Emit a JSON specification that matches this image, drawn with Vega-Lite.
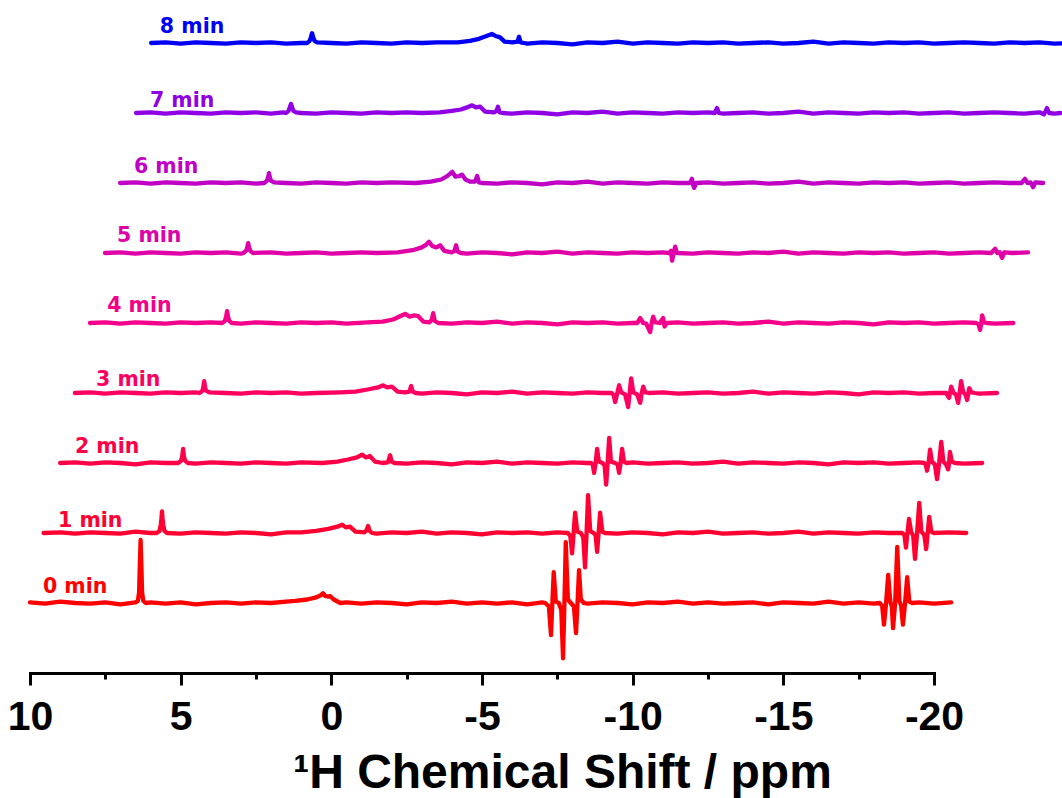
{
  "$schema": "https://vega.github.io/schema/vega-lite/v6.json",
  "autosize": {"type": "none"},
  "width": 904,
  "height": 672,
  "padding": {"left": 30, "top": 1, "right": 128, "bottom": 125},
  "background": "white",
  "config": {"view": {"stroke": null}},
  "encoding": {
    "x": {"field": "x", "type": "quantitative",
      "scale": {"domain": [10, -20], "nice": false, "zero": false},
      "axis": {
        "values": [10, 7.5, 5, 2.5, 0, -2.5, -5, -7.5, -10, -12.5, -15, -17.5, -20],
        "labelExpr": "datum.value % 5 === 0 ? '' + datum.value : ''",
        "tickSize": {"condition": {"test": "datum.value % 5 === 0", "value": 12}, "value": 6},
        "tickWidth": 3, "tickColor": "black",
        "domainWidth": 3, "domainColor": "black", "domainCap": "square",
        "grid": false, "labelFlush": false, "labelOverlap": false, "labelBound": false,
        "labelFont": "Liberation Sans", "labelFontSize": 41, "labelFontWeight": "bold", "labelColor": "black", "labelPadding": 12,
        "title": "¹H Chemical Shift / ppm",
        "titleFont": "Liberation Sans", "titleFontSize": 48, "titleFontWeight": "bold", "titleColor": "black",
        "titleX": 532, "titleY": 114, "titleBaseline": "alphabetic", "titleAlign": "center"
      }},
    "y": {"field": "y", "type": "quantitative", "scale": {"domain": [-1, 8.6], "nice": false, "zero": false}, "axis": null},
    "color": {"field": "t", "type": "nominal", "legend": null,
      "scale": {"domain": [0, 1, 2, 3, 4, 5, 6, 7, 8],
        "range": ["#ff0000", "#ff0030", "#ff0048", "#ff0060", "#f5008a", "#e000a8", "#c000c4", "#9000e4", "#0000f5"]}}
  },
  "layer": [
    {
      "mark": {"type": "line", "strokeWidth": 4.3, "strokeJoin": "round", "strokeCap": "round", "clip": false},
      "data": {"values": [
{"t":0,"x":10,"y":0.01},{"t":0,"x":9.5,"y":-0.01},{"t":0,"x":9,"y":0.02},{"t":0,"x":8.5,"y":0},{"t":0,"x":8,"y":-0.01},{"t":0,"x":7.5,"y":0.01},{"t":0,"x":7,"y":-0.02},
{"t":0,"x":6.5,"y":0.01},{"t":0,"x":6.42,"y":0.03},{"t":0,"x":6.38,"y":0.15},{"t":0,"x":6.355,"y":0.55},{"t":0,"x":6.33,"y":0.9},{"t":0,"x":6.305,"y":0.55},{"t":0,"x":6.28,"y":0.15},{"t":0,"x":6.24,"y":0.03},{"t":0,"x":6.16,"y":0},
{"t":0,"x":6,"y":0.01},{"t":0,"x":5.5,"y":-0.01},{"t":0,"x":5,"y":0.01},{"t":0,"x":4.5,"y":-0.02},{"t":0,"x":4,"y":0},{"t":0,"x":3.5,"y":0.01},{"t":0,"x":3,"y":-0.01},{"t":0,"x":2.5,"y":0.01},
{"t":0,"x":2,"y":0},{"t":0,"x":1.5,"y":0.02},{"t":0,"x":1.2,"y":0.03},{"t":0,"x":0.8,"y":0.05},{"t":0,"x":0.5,"y":0.08},{"t":0,"x":0.35,"y":0.11},{"t":0,"x":0.28,"y":0.14},{"t":0,"x":0.2,"y":0.1},{"t":0,"x":0.1,"y":0.09},{"t":0,"x":0.04,"y":0.1},{"t":0,"x":-0.08,"y":0.05},{"t":0,"x":-0.3,"y":0},
{"t":0,"x":-0.5,"y":0.01},{"t":0,"x":-1,"y":-0.01},{"t":0,"x":-1.5,"y":0.01},{"t":0,"x":-2,"y":0},{"t":0,"x":-2.5,"y":-0.02},{"t":0,"x":-3,"y":0.01},{"t":0,"x":-3.5,"y":0},{"t":0,"x":-4,"y":0.02},{"t":0,"x":-4.5,"y":-0.01},{"t":0,"x":-5,"y":0.01},{"t":0,"x":-5.5,"y":-0.01},{"t":0,"x":-6,"y":0.01},{"t":0,"x":-6.5,"y":-0.02},{"t":0,"x":-7,"y":0.01},
{"t":0,"x":-7.1,"y":0},{"t":0,"x":-7.22,"y":-0.05},{"t":0,"x":-7.29,"y":-0.46},{"t":0,"x":-7.335,"y":0},{"t":0,"x":-7.38,"y":0.44},{"t":0,"x":-7.45,"y":0.02},{"t":0,"x":-7.55,"y":0},{"t":0,"x":-7.63,"y":-0.1},{"t":0,"x":-7.69,"y":-0.79},{"t":0,"x":-7.735,"y":0},{"t":0,"x":-7.78,"y":0.87},{"t":0,"x":-7.85,"y":0.05},{"t":0,"x":-7.95,"y":0},{"t":0,"x":-8.05,"y":-0.05},{"t":0,"x":-8.12,"y":-0.43},{"t":0,"x":-8.17,"y":0},{"t":0,"x":-8.22,"y":0.47},{"t":0,"x":-8.28,"y":0.05},{"t":0,"x":-8.38,"y":0},
{"t":0,"x":-8.5,"y":-0.01},{"t":0,"x":-9,"y":0.01},{"t":0,"x":-9.5,"y":0},{"t":0,"x":-10,"y":-0.02},{"t":0,"x":-10.5,"y":0.01},{"t":0,"x":-11,"y":0},{"t":0,"x":-11.5,"y":0.02},{"t":0,"x":-12,"y":-0.01},{"t":0,"x":-12.5,"y":0.01},{"t":0,"x":-13,"y":-0.01},{"t":0,"x":-13.5,"y":0},{"t":0,"x":-14,"y":0.01},{"t":0,"x":-14.5,"y":-0.02},{"t":0,"x":-15,"y":0.01},{"t":0,"x":-15.5,"y":0},{"t":0,"x":-16,"y":-0.01},{"t":0,"x":-16.5,"y":0.02},{"t":0,"x":-17,"y":-0.01},{"t":0,"x":-17.5,"y":0.01},{"t":0,"x":-18,"y":-0.01},
{"t":0,"x":-18.2,"y":0},{"t":0,"x":-18.28,"y":-0.04},{"t":0,"x":-18.34,"y":-0.31},{"t":0,"x":-18.41,"y":0},{"t":0,"x":-18.48,"y":0.4},{"t":0,"x":-18.55,"y":0.02},{"t":0,"x":-18.6,"y":-0.05},{"t":0,"x":-18.64,"y":-0.36},{"t":0,"x":-18.71,"y":0},{"t":0,"x":-18.78,"y":0.8},{"t":0,"x":-18.85,"y":0.03},{"t":0,"x":-18.91,"y":-0.04},{"t":0,"x":-18.97,"y":-0.31},{"t":0,"x":-19.04,"y":0},{"t":0,"x":-19.11,"y":0.37},{"t":0,"x":-19.18,"y":0.02},{"t":0,"x":-19.28,"y":0},
{"t":0,"x":-19.5,"y":0.01},{"t":0,"x":-20,"y":-0.01},{"t":0,"x":-20.57,"y":0.01},

{"t":1,"x":9.55,"y":1},{"t":1,"x":9,"y":1.01},{"t":1,"x":8.5,"y":0.99},{"t":1,"x":8,"y":1.01},{"t":1,"x":7.5,"y":1},{"t":1,"x":7,"y":0.99},{"t":1,"x":6.5,"y":1.02},{"t":1,"x":6,"y":1},
{"t":1,"x":5.8,"y":1},{"t":1,"x":5.7,"y":1.03},{"t":1,"x":5.66,"y":1.12},{"t":1,"x":5.64,"y":1.2},{"t":1,"x":5.62,"y":1.31},{"t":1,"x":5.6,"y":1.2},{"t":1,"x":5.58,"y":1.12},{"t":1,"x":5.54,"y":1.03},{"t":1,"x":5.45,"y":1},
{"t":1,"x":5,"y":0.99},{"t":1,"x":4.5,"y":1.01},{"t":1,"x":4,"y":1},{"t":1,"x":3.5,"y":0.99},{"t":1,"x":3,"y":1.01},{"t":1,"x":2.5,"y":1},{"t":1,"x":2,"y":0.98},{"t":1,"x":1.5,"y":1.01},
{"t":1,"x":1,"y":1.01},{"t":1,"x":0.5,"y":1.03},{"t":1,"x":0.1,"y":1.06},{"t":1,"x":-0.2,"y":1.09},{"t":1,"x":-0.36,"y":1.12},{"t":1,"x":-0.48,"y":1.08},{"t":1,"x":-0.62,"y":1.09},{"t":1,"x":-0.8,"y":1.02},{"t":1,"x":-1.1,"y":1.01},{"t":1,"x":-1.17,"y":1.04},{"t":1,"x":-1.22,"y":1.1},{"t":1,"x":-1.27,"y":1.03},{"t":1,"x":-1.35,"y":1},
{"t":1,"x":-1.5,"y":0.99},{"t":1,"x":-2,"y":1.01},{"t":1,"x":-2.5,"y":1},{"t":1,"x":-3,"y":1.02},{"t":1,"x":-3.5,"y":0.99},{"t":1,"x":-4,"y":1.01},{"t":1,"x":-4.5,"y":1},{"t":1,"x":-5,"y":0.98},{"t":1,"x":-5.5,"y":1.01},{"t":1,"x":-6,"y":1},{"t":1,"x":-6.5,"y":1.01},{"t":1,"x":-7,"y":0.99},{"t":1,"x":-7.5,"y":1.01},
{"t":1,"x":-7.85,"y":1},{"t":1,"x":-7.93,"y":0.96},{"t":1,"x":-7.99,"y":0.71},{"t":1,"x":-8.04,"y":1},{"t":1,"x":-8.09,"y":1.29},{"t":1,"x":-8.16,"y":1.02},{"t":1,"x":-8.28,"y":1},{"t":1,"x":-8.36,"y":0.94},{"t":1,"x":-8.42,"y":0.51},{"t":1,"x":-8.47,"y":1},{"t":1,"x":-8.52,"y":1.54},{"t":1,"x":-8.59,"y":1.03},{"t":1,"x":-8.7,"y":1},{"t":1,"x":-8.77,"y":0.97},{"t":1,"x":-8.82,"y":0.73},{"t":1,"x":-8.87,"y":1},{"t":1,"x":-8.92,"y":1.29},{"t":1,"x":-8.99,"y":1.02},{"t":1,"x":-9.08,"y":1},
{"t":1,"x":-9.5,"y":0.99},{"t":1,"x":-10,"y":1.01},{"t":1,"x":-10.5,"y":1},{"t":1,"x":-11,"y":0.98},{"t":1,"x":-11.5,"y":1.01},{"t":1,"x":-12,"y":1},{"t":1,"x":-12.5,"y":1.02},{"t":1,"x":-13,"y":0.99},{"t":1,"x":-13.5,"y":1},{"t":1,"x":-14,"y":1.01},{"t":1,"x":-14.5,"y":0.99},{"t":1,"x":-15,"y":1},{"t":1,"x":-15.5,"y":1.02},{"t":1,"x":-16,"y":0.99},{"t":1,"x":-16.5,"y":1.01},{"t":1,"x":-17,"y":1},{"t":1,"x":-17.5,"y":0.99},{"t":1,"x":-18,"y":1.01},{"t":1,"x":-18.5,"y":1},
{"t":1,"x":-18.95,"y":1},{"t":1,"x":-19.02,"y":0.97},{"t":1,"x":-19.07,"y":0.79},{"t":1,"x":-19.12,"y":1},{"t":1,"x":-19.17,"y":1.2},{"t":1,"x":-19.24,"y":1.02},{"t":1,"x":-19.31,"y":0.96},{"t":1,"x":-19.37,"y":0.63},{"t":1,"x":-19.44,"y":1},{"t":1,"x":-19.51,"y":1.43},{"t":1,"x":-19.58,"y":1.02},{"t":1,"x":-19.68,"y":0.97},{"t":1,"x":-19.74,"y":0.77},{"t":1,"x":-19.79,"y":1},{"t":1,"x":-19.84,"y":1.23},{"t":1,"x":-19.91,"y":1.02},{"t":1,"x":-20,"y":1},
{"t":1,"x":-20.5,"y":1.01},{"t":1,"x":-21.07,"y":1},

{"t":2,"x":9,"y":2},{"t":2,"x":8.5,"y":2.01},{"t":2,"x":8,"y":1.99},{"t":2,"x":7.5,"y":2.01},{"t":2,"x":7,"y":2},{"t":2,"x":6.5,"y":1.98},{"t":2,"x":6,"y":2.01},{"t":2,"x":5.5,"y":2},
{"t":2,"x":5.08,"y":2},{"t":2,"x":4.99,"y":2.03},{"t":2,"x":4.95,"y":2.09},{"t":2,"x":4.92,"y":2.2},{"t":2,"x":4.89,"y":2.09},{"t":2,"x":4.85,"y":2.03},{"t":2,"x":4.76,"y":2},
{"t":2,"x":4.5,"y":1.99},{"t":2,"x":4,"y":2.01},{"t":2,"x":3.5,"y":2},{"t":2,"x":3,"y":1.99},{"t":2,"x":2.5,"y":2.01},{"t":2,"x":2,"y":2},{"t":2,"x":1.5,"y":1.99},{"t":2,"x":1,"y":2.01},
{"t":2,"x":0.3,"y":2},{"t":2,"x":-0.2,"y":2.02},{"t":2,"x":-0.55,"y":2.05},{"t":2,"x":-0.85,"y":2.08},{"t":2,"x":-1.02,"y":2.12},{"t":2,"x":-1.15,"y":2.08},{"t":2,"x":-1.28,"y":2.1},{"t":2,"x":-1.45,"y":2.02},{"t":2,"x":-1.7,"y":2},{"t":2,"x":-1.88,"y":2.01},{"t":2,"x":-1.95,"y":2.11},{"t":2,"x":-2,"y":2.02},{"t":2,"x":-2.1,"y":2},
{"t":2,"x":-2.5,"y":1.99},{"t":2,"x":-3,"y":2.01},{"t":2,"x":-3.5,"y":2},{"t":2,"x":-4,"y":1.98},{"t":2,"x":-4.5,"y":2.01},{"t":2,"x":-5,"y":2},{"t":2,"x":-5.5,"y":2.02},{"t":2,"x":-6,"y":1.99},{"t":2,"x":-6.5,"y":2.01},{"t":2,"x":-7,"y":2},{"t":2,"x":-7.5,"y":1.99},{"t":2,"x":-8,"y":2.01},{"t":2,"x":-8.5,"y":2},
{"t":2,"x":-8.62,"y":2},{"t":2,"x":-8.68,"y":1.97},{"t":2,"x":-8.72,"y":1.86},{"t":2,"x":-8.77,"y":2},{"t":2,"x":-8.82,"y":2.2},{"t":2,"x":-8.88,"y":2.02},{"t":2,"x":-9,"y":2},{"t":2,"x":-9.07,"y":1.96},{"t":2,"x":-9.12,"y":1.69},{"t":2,"x":-9.17,"y":2},{"t":2,"x":-9.22,"y":2.36},{"t":2,"x":-9.28,"y":2.02},{"t":2,"x":-9.42,"y":2},{"t":2,"x":-9.5,"y":1.98},{"t":2,"x":-9.55,"y":1.86},{"t":2,"x":-9.6,"y":2},{"t":2,"x":-9.65,"y":2.2},{"t":2,"x":-9.71,"y":2.02},{"t":2,"x":-9.8,"y":2},
{"t":2,"x":-10,"y":2.01},{"t":2,"x":-10.5,"y":1.99},{"t":2,"x":-11,"y":2},{"t":2,"x":-11.5,"y":2.01},{"t":2,"x":-12,"y":1.99},{"t":2,"x":-12.5,"y":2},{"t":2,"x":-13,"y":2.02},{"t":2,"x":-13.5,"y":1.99},{"t":2,"x":-14,"y":2.01},{"t":2,"x":-14.5,"y":2},{"t":2,"x":-15,"y":1.99},{"t":2,"x":-15.5,"y":2.01},{"t":2,"x":-16,"y":2},{"t":2,"x":-16.5,"y":1.98},{"t":2,"x":-17,"y":2.01},{"t":2,"x":-17.5,"y":2},{"t":2,"x":-18,"y":2.01},{"t":2,"x":-18.5,"y":1.99},{"t":2,"x":-19,"y":2},{"t":2,"x":-19.5,"y":2.01},
{"t":2,"x":-19.68,"y":2},{"t":2,"x":-19.73,"y":1.97},{"t":2,"x":-19.77,"y":1.89},{"t":2,"x":-19.82,"y":2},{"t":2,"x":-19.87,"y":2.19},{"t":2,"x":-19.93,"y":2.02},{"t":2,"x":-20.03,"y":1.98},{"t":2,"x":-20.1,"y":1.77},{"t":2,"x":-20.17,"y":2},{"t":2,"x":-20.24,"y":2.3},{"t":2,"x":-20.31,"y":2.02},{"t":2,"x":-20.4,"y":1.98},{"t":2,"x":-20.47,"y":1.91},{"t":2,"x":-20.5,"y":2},{"t":2,"x":-20.53,"y":2.16},{"t":2,"x":-20.59,"y":2.02},{"t":2,"x":-20.7,"y":2},
{"t":2,"x":-21,"y":1.99},{"t":2,"x":-21.6,"y":2},

{"t":3,"x":8.51,"y":3},{"t":3,"x":8,"y":3.01},{"t":3,"x":7.5,"y":2.99},{"t":3,"x":7,"y":3.01},{"t":3,"x":6.5,"y":3},{"t":3,"x":6,"y":2.99},{"t":3,"x":5.5,"y":3.01},{"t":3,"x":5,"y":3},{"t":3,"x":4.5,"y":3.01},
{"t":3,"x":4.38,"y":3},{"t":3,"x":4.28,"y":3.03},{"t":3,"x":4.25,"y":3.08},{"t":3,"x":4.22,"y":3.17},{"t":3,"x":4.19,"y":3.08},{"t":3,"x":4.15,"y":3.03},{"t":3,"x":4.05,"y":3.01},
{"t":3,"x":3.5,"y":3},{"t":3,"x":3,"y":2.99},{"t":3,"x":2.5,"y":3.01},{"t":3,"x":2,"y":3},{"t":3,"x":1.5,"y":3.01},{"t":3,"x":1,"y":2.99},{"t":3,"x":0.5,"y":3},
{"t":3,"x":-0.3,"y":3.01},{"t":3,"x":-0.8,"y":3.02},{"t":3,"x":-1.2,"y":3.05},{"t":3,"x":-1.55,"y":3.08},{"t":3,"x":-1.72,"y":3.11},{"t":3,"x":-1.85,"y":3.08},{"t":3,"x":-2.01,"y":3.09},{"t":3,"x":-2.2,"y":3.02},{"t":3,"x":-2.45,"y":3.01},{"t":3,"x":-2.59,"y":3.02},{"t":3,"x":-2.65,"y":3.1},{"t":3,"x":-2.7,"y":3.02},{"t":3,"x":-2.8,"y":3},
{"t":3,"x":-3,"y":2.99},{"t":3,"x":-3.5,"y":3.01},{"t":3,"x":-4,"y":3},{"t":3,"x":-4.5,"y":2.98},{"t":3,"x":-5,"y":3.01},{"t":3,"x":-5.5,"y":3},{"t":3,"x":-6,"y":3.02},{"t":3,"x":-6.5,"y":2.99},{"t":3,"x":-7,"y":3.01},{"t":3,"x":-7.5,"y":3},{"t":3,"x":-8,"y":2.99},{"t":3,"x":-8.5,"y":3.01},{"t":3,"x":-9,"y":3},
{"t":3,"x":-9.3,"y":3},{"t":3,"x":-9.37,"y":2.97},{"t":3,"x":-9.42,"y":2.87},{"t":3,"x":-9.49,"y":3},{"t":3,"x":-9.55,"y":3.11},{"t":3,"x":-9.62,"y":3.01},{"t":3,"x":-9.75,"y":2.98},{"t":3,"x":-9.85,"y":2.8},{"t":3,"x":-9.9,"y":3},{"t":3,"x":-9.95,"y":3.21},{"t":3,"x":-10.02,"y":3.01},{"t":3,"x":-10.15,"y":2.98},{"t":3,"x":-10.25,"y":2.86},{"t":3,"x":-10.3,"y":3},{"t":3,"x":-10.35,"y":3.09},{"t":3,"x":-10.42,"y":3.01},{"t":3,"x":-10.55,"y":3},
{"t":3,"x":-11,"y":3.01},{"t":3,"x":-11.5,"y":2.99},{"t":3,"x":-12,"y":3},{"t":3,"x":-12.5,"y":3.01},{"t":3,"x":-13,"y":2.99},{"t":3,"x":-13.5,"y":3},{"t":3,"x":-14,"y":3.02},{"t":3,"x":-14.5,"y":2.99},{"t":3,"x":-15,"y":3.01},{"t":3,"x":-15.5,"y":3},{"t":3,"x":-16,"y":2.99},{"t":3,"x":-16.5,"y":3.01},{"t":3,"x":-17,"y":3},{"t":3,"x":-17.5,"y":2.98},{"t":3,"x":-18,"y":3.01},{"t":3,"x":-18.5,"y":3},{"t":3,"x":-19,"y":3.01},{"t":3,"x":-19.5,"y":2.99},{"t":3,"x":-20,"y":3},
{"t":3,"x":-20.4,"y":3},{"t":3,"x":-20.5,"y":2.93},{"t":3,"x":-20.57,"y":3.09},{"t":3,"x":-20.65,"y":3},{"t":3,"x":-20.73,"y":2.98},{"t":3,"x":-20.8,"y":2.86},{"t":3,"x":-20.85,"y":3},{"t":3,"x":-20.9,"y":3.17},{"t":3,"x":-20.97,"y":3.01},{"t":3,"x":-21.04,"y":2.98},{"t":3,"x":-21.1,"y":2.9},{"t":3,"x":-21.14,"y":3},{"t":3,"x":-21.17,"y":3.07},{"t":3,"x":-21.24,"y":3.01},{"t":3,"x":-21.35,"y":3},
{"t":3,"x":-21.5,"y":2.99},{"t":3,"x":-22.09,"y":3},

{"t":4,"x":8.01,"y":4},{"t":4,"x":7.5,"y":4.01},{"t":4,"x":7,"y":3.99},{"t":4,"x":6.5,"y":4.01},{"t":4,"x":6,"y":4},{"t":4,"x":5.5,"y":3.99},{"t":4,"x":5,"y":4.01},{"t":4,"x":4.5,"y":4},{"t":4,"x":4,"y":4.01},
{"t":4,"x":3.62,"y":4},{"t":4,"x":3.53,"y":4.03},{"t":4,"x":3.49,"y":4.09},{"t":4,"x":3.46,"y":4.17},{"t":4,"x":3.43,"y":4.09},{"t":4,"x":3.39,"y":4.03},{"t":4,"x":3.3,"y":4},
{"t":4,"x":3,"y":3.99},{"t":4,"x":2.5,"y":4.01},{"t":4,"x":2,"y":4},{"t":4,"x":1.5,"y":3.99},{"t":4,"x":1,"y":4.01},{"t":4,"x":0.5,"y":4},{"t":4,"x":0,"y":4.01},{"t":4,"x":-0.5,"y":3.99},
{"t":4,"x":-1.2,"y":4.01},{"t":4,"x":-1.7,"y":4.02},{"t":4,"x":-2.05,"y":4.05},{"t":4,"x":-2.3,"y":4.1},{"t":4,"x":-2.45,"y":4.13},{"t":4,"x":-2.6,"y":4.09},{"t":4,"x":-2.75,"y":4.11},{"t":4,"x":-2.88,"y":4.1},{"t":4,"x":-3.05,"y":4.02},{"t":4,"x":-3.25,"y":4.01},{"t":4,"x":-3.33,"y":4.04},{"t":4,"x":-3.38,"y":4.14},{"t":4,"x":-3.43,"y":4.03},{"t":4,"x":-3.55,"y":4},
{"t":4,"x":-4,"y":3.99},{"t":4,"x":-4.5,"y":4.01},{"t":4,"x":-5,"y":4},{"t":4,"x":-5.5,"y":4.02},{"t":4,"x":-6,"y":3.99},{"t":4,"x":-6.5,"y":4.01},{"t":4,"x":-7,"y":4},{"t":4,"x":-7.5,"y":3.98},{"t":4,"x":-8,"y":4.01},{"t":4,"x":-8.5,"y":4},{"t":4,"x":-9,"y":4.01},{"t":4,"x":-9.5,"y":3.99},{"t":4,"x":-10,"y":4},
{"t":4,"x":-10.15,"y":4},{"t":4,"x":-10.25,"y":4.07},{"t":4,"x":-10.35,"y":4},{"t":4,"x":-10.45,"y":3.99},{"t":4,"x":-10.58,"y":3.87},{"t":4,"x":-10.63,"y":4},{"t":4,"x":-10.68,"y":4.09},{"t":4,"x":-10.75,"y":4.01},{"t":4,"x":-10.9,"y":4},{"t":4,"x":-11.01,"y":4.07},{"t":4,"x":-11.06,"y":3.95},{"t":4,"x":-11.12,"y":4},
{"t":4,"x":-11.5,"y":4.01},{"t":4,"x":-12,"y":3.99},{"t":4,"x":-12.5,"y":4},{"t":4,"x":-13,"y":4.01},{"t":4,"x":-13.5,"y":3.99},{"t":4,"x":-14,"y":4},{"t":4,"x":-14.5,"y":4.02},{"t":4,"x":-15,"y":3.99},{"t":4,"x":-15.5,"y":4.01},{"t":4,"x":-16,"y":4},{"t":4,"x":-16.5,"y":3.99},{"t":4,"x":-17,"y":4.01},{"t":4,"x":-17.5,"y":4},{"t":4,"x":-18,"y":3.98},{"t":4,"x":-18.5,"y":4.01},{"t":4,"x":-19,"y":4},{"t":4,"x":-19.5,"y":4.01},{"t":4,"x":-20,"y":3.99},{"t":4,"x":-20.5,"y":4},{"t":4,"x":-21,"y":4.01},
{"t":4,"x":-21.4,"y":4},{"t":4,"x":-21.48,"y":3.98},{"t":4,"x":-21.53,"y":3.9},{"t":4,"x":-21.57,"y":4},{"t":4,"x":-21.6,"y":4.11},{"t":4,"x":-21.66,"y":4.01},{"t":4,"x":-21.75,"y":4},
{"t":4,"x":-22,"y":3.99},{"t":4,"x":-22.63,"y":4},

{"t":5,"x":7.51,"y":5},{"t":5,"x":7,"y":5.01},{"t":5,"x":6.5,"y":4.99},{"t":5,"x":6,"y":5.01},{"t":5,"x":5.5,"y":5},{"t":5,"x":5,"y":4.99},{"t":5,"x":4.5,"y":5.01},{"t":5,"x":4,"y":5},{"t":5,"x":3.5,"y":5.01},{"t":5,"x":3,"y":4.99},
{"t":5,"x":2.92,"y":5},{"t":5,"x":2.83,"y":5.03},{"t":5,"x":2.79,"y":5.08},{"t":5,"x":2.76,"y":5.14},{"t":5,"x":2.73,"y":5.08},{"t":5,"x":2.69,"y":5.03},{"t":5,"x":2.6,"y":5},
{"t":5,"x":2,"y":5.01},{"t":5,"x":1.5,"y":4.99},{"t":5,"x":1,"y":5},{"t":5,"x":0.5,"y":5.01},{"t":5,"x":0,"y":4.99},{"t":5,"x":-0.5,"y":5},{"t":5,"x":-1,"y":5.01},{"t":5,"x":-1.5,"y":5},
{"t":5,"x":-2.2,"y":5.01},{"t":5,"x":-2.7,"y":5.04},{"t":5,"x":-3,"y":5.08},{"t":5,"x":-3.15,"y":5.12},{"t":5,"x":-3.24,"y":5.16},{"t":5,"x":-3.35,"y":5.1},{"t":5,"x":-3.48,"y":5.08},{"t":5,"x":-3.61,"y":5.11},{"t":5,"x":-3.75,"y":5.03},{"t":5,"x":-4,"y":5.01},{"t":5,"x":-4.09,"y":5.03},{"t":5,"x":-4.14,"y":5.11},{"t":5,"x":-4.19,"y":5.02},{"t":5,"x":-4.3,"y":5},
{"t":5,"x":-4.5,"y":4.99},{"t":5,"x":-5,"y":5.01},{"t":5,"x":-5.5,"y":5},{"t":5,"x":-6,"y":4.98},{"t":5,"x":-6.5,"y":5.01},{"t":5,"x":-7,"y":5},{"t":5,"x":-7.5,"y":5.02},{"t":5,"x":-8,"y":4.99},{"t":5,"x":-8.5,"y":5.01},{"t":5,"x":-9,"y":5},{"t":5,"x":-9.5,"y":4.99},{"t":5,"x":-10,"y":5.01},{"t":5,"x":-10.5,"y":5},{"t":5,"x":-11,"y":5.01},
{"t":5,"x":-11.2,"y":5},{"t":5,"x":-11.27,"y":5.03},{"t":5,"x":-11.31,"y":4.89},{"t":5,"x":-11.36,"y":5},{"t":5,"x":-11.41,"y":5.09},{"t":5,"x":-11.47,"y":5},
{"t":5,"x":-12,"y":4.99},{"t":5,"x":-12.5,"y":5.01},{"t":5,"x":-13,"y":5},{"t":5,"x":-13.5,"y":4.99},{"t":5,"x":-14,"y":5.01},{"t":5,"x":-14.5,"y":5},{"t":5,"x":-15,"y":5.02},{"t":5,"x":-15.5,"y":4.99},{"t":5,"x":-16,"y":5.01},{"t":5,"x":-16.5,"y":5},{"t":5,"x":-17,"y":4.99},{"t":5,"x":-17.5,"y":5.01},{"t":5,"x":-18,"y":5},{"t":5,"x":-18.5,"y":5.01},{"t":5,"x":-19,"y":4.99},{"t":5,"x":-19.5,"y":5},{"t":5,"x":-20,"y":5.01},{"t":5,"x":-20.5,"y":4.99},{"t":5,"x":-21,"y":5},{"t":5,"x":-21.5,"y":5.01},
{"t":5,"x":-21.9,"y":5},{"t":5,"x":-22.03,"y":5.06},{"t":5,"x":-22.1,"y":5},{"t":5,"x":-22.18,"y":5.01},{"t":5,"x":-22.26,"y":4.93},{"t":5,"x":-22.33,"y":5.01},
{"t":5,"x":-22.6,"y":5},{"t":5,"x":-23.12,"y":5.01},

{"t":6,"x":7.01,"y":6},{"t":6,"x":6.5,"y":6.01},{"t":6,"x":6,"y":5.99},{"t":6,"x":5.5,"y":6.01},{"t":6,"x":5,"y":6},{"t":6,"x":4.5,"y":5.99},{"t":6,"x":4,"y":6.01},{"t":6,"x":3.5,"y":6},{"t":6,"x":3,"y":6.01},{"t":6,"x":2.5,"y":5.99},
{"t":6,"x":2.23,"y":6},{"t":6,"x":2.14,"y":6.03},{"t":6,"x":2.1,"y":6.08},{"t":6,"x":2.07,"y":6.14},{"t":6,"x":2.04,"y":6.08},{"t":6,"x":2,"y":6.03},{"t":6,"x":1.9,"y":6.01},
{"t":6,"x":1.5,"y":6},{"t":6,"x":1,"y":5.99},{"t":6,"x":0.5,"y":6.01},{"t":6,"x":0,"y":6},{"t":6,"x":-0.5,"y":5.99},{"t":6,"x":-1,"y":6.01},{"t":6,"x":-1.5,"y":6},{"t":6,"x":-2,"y":6.01},
{"t":6,"x":-2.8,"y":6},{"t":6,"x":-3.3,"y":6.02},{"t":6,"x":-3.65,"y":6.05},{"t":6,"x":-3.85,"y":6.1},{"t":6,"x":-4.01,"y":6.16},{"t":6,"x":-4.12,"y":6.09},{"t":6,"x":-4.25,"y":6.1},{"t":6,"x":-4.34,"y":6.12},{"t":6,"x":-4.45,"y":6.05},{"t":6,"x":-4.6,"y":6.02},{"t":6,"x":-4.77,"y":6.02},{"t":6,"x":-4.84,"y":6.1},{"t":6,"x":-4.9,"y":6.01},{"t":6,"x":-5,"y":6},
{"t":6,"x":-5.5,"y":5.99},{"t":6,"x":-6,"y":6.01},{"t":6,"x":-6.5,"y":6},{"t":6,"x":-7,"y":5.98},{"t":6,"x":-7.5,"y":6.01},{"t":6,"x":-8,"y":6},{"t":6,"x":-8.5,"y":6.02},{"t":6,"x":-9,"y":5.99},{"t":6,"x":-9.5,"y":6.01},{"t":6,"x":-10,"y":6},{"t":6,"x":-10.5,"y":5.99},{"t":6,"x":-11,"y":6.01},{"t":6,"x":-11.5,"y":6},
{"t":6,"x":-11.9,"y":6},{"t":6,"x":-11.97,"y":6.06},{"t":6,"x":-12,"y":5.98},{"t":6,"x":-12.04,"y":5.93},{"t":6,"x":-12.1,"y":6},
{"t":6,"x":-12.5,"y":6.01},{"t":6,"x":-13,"y":5.99},{"t":6,"x":-13.5,"y":6},{"t":6,"x":-14,"y":6.01},{"t":6,"x":-14.5,"y":5.99},{"t":6,"x":-15,"y":6},{"t":6,"x":-15.5,"y":6.02},{"t":6,"x":-16,"y":5.99},{"t":6,"x":-16.5,"y":6.01},{"t":6,"x":-17,"y":6},{"t":6,"x":-17.5,"y":5.99},{"t":6,"x":-18,"y":6.01},{"t":6,"x":-18.5,"y":6},{"t":6,"x":-19,"y":6.01},{"t":6,"x":-19.5,"y":5.99},{"t":6,"x":-20,"y":6},{"t":6,"x":-20.5,"y":6.01},{"t":6,"x":-21,"y":5.99},{"t":6,"x":-21.5,"y":6},{"t":6,"x":-22,"y":6.01},{"t":6,"x":-22.5,"y":6},
{"t":6,"x":-22.9,"y":6},{"t":6,"x":-23.02,"y":6.06},{"t":6,"x":-23.1,"y":6},{"t":6,"x":-23.2,"y":6.01},{"t":6,"x":-23.29,"y":5.94},{"t":6,"x":-23.36,"y":6.01},{"t":6,"x":-23.62,"y":6},

{"t":7,"x":6.48,"y":7},{"t":7,"x":6,"y":7.01},{"t":7,"x":5.5,"y":6.99},{"t":7,"x":5,"y":7.01},{"t":7,"x":4.5,"y":7},{"t":7,"x":4,"y":6.99},{"t":7,"x":3.5,"y":7.01},{"t":7,"x":3,"y":7},{"t":7,"x":2.5,"y":7.01},{"t":7,"x":2,"y":6.99},{"t":7,"x":1.6,"y":7.01},
{"t":7,"x":1.5,"y":7},{"t":7,"x":1.42,"y":7.03},{"t":7,"x":1.38,"y":7.08},{"t":7,"x":1.34,"y":7.13},{"t":7,"x":1.3,"y":7.08},{"t":7,"x":1.26,"y":7.03},{"t":7,"x":1.17,"y":7.01},
{"t":7,"x":1,"y":7},{"t":7,"x":0.5,"y":6.99},{"t":7,"x":0,"y":7.01},{"t":7,"x":-0.5,"y":7},{"t":7,"x":-1,"y":6.99},{"t":7,"x":-1.5,"y":7.01},{"t":7,"x":-2,"y":7},{"t":7,"x":-2.5,"y":7.01},{"t":7,"x":-3,"y":7},
{"t":7,"x":-3.6,"y":7.01},{"t":7,"x":-4,"y":7.03},{"t":7,"x":-4.3,"y":7.05},{"t":7,"x":-4.5,"y":7.08},{"t":7,"x":-4.67,"y":7.11},{"t":7,"x":-4.8,"y":7.08},{"t":7,"x":-4.94,"y":7.09},{"t":7,"x":-5.1,"y":7.02},{"t":7,"x":-5.4,"y":7.01},{"t":7,"x":-5.48,"y":7.03},{"t":7,"x":-5.53,"y":7.09},{"t":7,"x":-5.58,"y":7.01},{"t":7,"x":-5.7,"y":7},
{"t":7,"x":-6,"y":6.99},{"t":7,"x":-6.5,"y":7.01},{"t":7,"x":-7,"y":7},{"t":7,"x":-7.5,"y":6.98},{"t":7,"x":-8,"y":7.01},{"t":7,"x":-8.5,"y":7},{"t":7,"x":-9,"y":7.02},{"t":7,"x":-9.5,"y":6.99},{"t":7,"x":-10,"y":7.01},{"t":7,"x":-10.5,"y":7},{"t":7,"x":-11,"y":6.99},{"t":7,"x":-11.5,"y":7.01},{"t":7,"x":-12,"y":7},{"t":7,"x":-12.5,"y":7.01},
{"t":7,"x":-12.72,"y":7},{"t":7,"x":-12.8,"y":7.07},{"t":7,"x":-12.86,"y":7},
{"t":7,"x":-13,"y":6.99},{"t":7,"x":-13.5,"y":7},{"t":7,"x":-14,"y":7.01},{"t":7,"x":-14.5,"y":6.99},{"t":7,"x":-15,"y":7},{"t":7,"x":-15.5,"y":7.02},{"t":7,"x":-16,"y":6.99},{"t":7,"x":-16.5,"y":7.01},{"t":7,"x":-17,"y":7},{"t":7,"x":-17.5,"y":6.99},{"t":7,"x":-18,"y":7.01},{"t":7,"x":-18.5,"y":7},{"t":7,"x":-19,"y":7.01},{"t":7,"x":-19.5,"y":6.99},{"t":7,"x":-20,"y":7},{"t":7,"x":-20.5,"y":7.01},{"t":7,"x":-21,"y":6.99},{"t":7,"x":-21.5,"y":7},{"t":7,"x":-22,"y":7.01},{"t":7,"x":-22.5,"y":7},{"t":7,"x":-23,"y":6.99},{"t":7,"x":-23.5,"y":7.01},
{"t":7,"x":-23.65,"y":6.98},{"t":7,"x":-23.75,"y":7.07},{"t":7,"x":-23.82,"y":7},{"t":7,"x":-24,"y":6.99},{"t":7,"x":-24.19,"y":7},

{"t":8,"x":5.98,"y":8},{"t":8,"x":5.5,"y":8.01},{"t":8,"x":5,"y":7.99},{"t":8,"x":4.5,"y":8.01},{"t":8,"x":4,"y":8},{"t":8,"x":3.5,"y":7.99},{"t":8,"x":3,"y":8.01},{"t":8,"x":2.5,"y":8},{"t":8,"x":2,"y":8.01},{"t":8,"x":1.5,"y":7.99},{"t":8,"x":1,"y":8},
{"t":8,"x":0.8,"y":8},{"t":8,"x":0.72,"y":8.03},{"t":8,"x":0.68,"y":8.08},{"t":8,"x":0.64,"y":8.14},{"t":8,"x":0.6,"y":8.08},{"t":8,"x":0.56,"y":8.03},{"t":8,"x":0.47,"y":8.01},
{"t":8,"x":0,"y":8},{"t":8,"x":-0.5,"y":7.99},{"t":8,"x":-1,"y":8.01},{"t":8,"x":-1.5,"y":8},{"t":8,"x":-2,"y":7.99},{"t":8,"x":-2.5,"y":8.01},{"t":8,"x":-3,"y":8},{"t":8,"x":-3.5,"y":8.01},
{"t":8,"x":-4.2,"y":8.01},{"t":8,"x":-4.6,"y":8.03},{"t":8,"x":-4.9,"y":8.06},{"t":8,"x":-5.15,"y":8.1},{"t":8,"x":-5.33,"y":8.13},{"t":8,"x":-5.45,"y":8.1},{"t":8,"x":-5.6,"y":8.08},{"t":8,"x":-5.75,"y":8.02},{"t":8,"x":-6,"y":8.01},{"t":8,"x":-6.18,"y":8.02},{"t":8,"x":-6.23,"y":8.09},{"t":8,"x":-6.28,"y":8.01},{"t":8,"x":-6.4,"y":8},
{"t":8,"x":-6.5,"y":7.99},{"t":8,"x":-7,"y":8.01},{"t":8,"x":-7.5,"y":8},{"t":8,"x":-8,"y":7.98},{"t":8,"x":-8.5,"y":8.01},{"t":8,"x":-9,"y":8},{"t":8,"x":-9.5,"y":8.02},{"t":8,"x":-10,"y":7.99},{"t":8,"x":-10.5,"y":8.01},{"t":8,"x":-11,"y":8},{"t":8,"x":-11.5,"y":7.99},{"t":8,"x":-12,"y":8.01},{"t":8,"x":-12.5,"y":8},{"t":8,"x":-13,"y":8.01},{"t":8,"x":-13.5,"y":7.99},{"t":8,"x":-14,"y":8},{"t":8,"x":-14.5,"y":8.01},{"t":8,"x":-15,"y":7.99},{"t":8,"x":-15.5,"y":8},{"t":8,"x":-16,"y":8.02},{"t":8,"x":-16.5,"y":7.99},{"t":8,"x":-17,"y":8.01},{"t":8,"x":-17.5,"y":8},{"t":8,"x":-18,"y":7.99},{"t":8,"x":-18.5,"y":8.01},{"t":8,"x":-19,"y":8},{"t":8,"x":-19.5,"y":8.01},{"t":8,"x":-20,"y":7.99},{"t":8,"x":-20.5,"y":8},{"t":8,"x":-21,"y":8.01},{"t":8,"x":-21.5,"y":8},{"t":8,"x":-22,"y":7.99},{"t":8,"x":-22.5,"y":8.01},{"t":8,"x":-23,"y":8},{"t":8,"x":-23.5,"y":8.01},{"t":8,"x":-24,"y":7.99},{"t":8,"x":-24.5,"y":8},{"t":8,"x":-24.8,"y":8.01}
      ]}
    },
    {
      "mark": {"type": "text", "font": "DejaVu Sans", "fontWeight": "bold", "fontSize": 20.5, "align": "left", "baseline": "alphabetic", "clip": false},
      "data": {"values": [
        {"t":0,"x":9.57,"y":0.14,"label":"0 min"},
        {"t":1,"x":9.07,"y":1.09,"label":"1 min"},
        {"t":2,"x":8.51,"y":2.14,"label":"2 min"},
        {"t":3,"x":7.81,"y":3.1,"label":"3 min"},
        {"t":4,"x":7.44,"y":4.16,"label":"4 min"},
        {"t":5,"x":7.11,"y":5.16,"label":"5 min"},
        {"t":6,"x":6.55,"y":6.14,"label":"6 min"},
        {"t":7,"x":6.02,"y":7.09,"label":"7 min"},
        {"t":8,"x":5.69,"y":8.14,"label":"8 min"}
      ]},
      "encoding": {"text": {"field": "label"}}
    }
  ]
}
